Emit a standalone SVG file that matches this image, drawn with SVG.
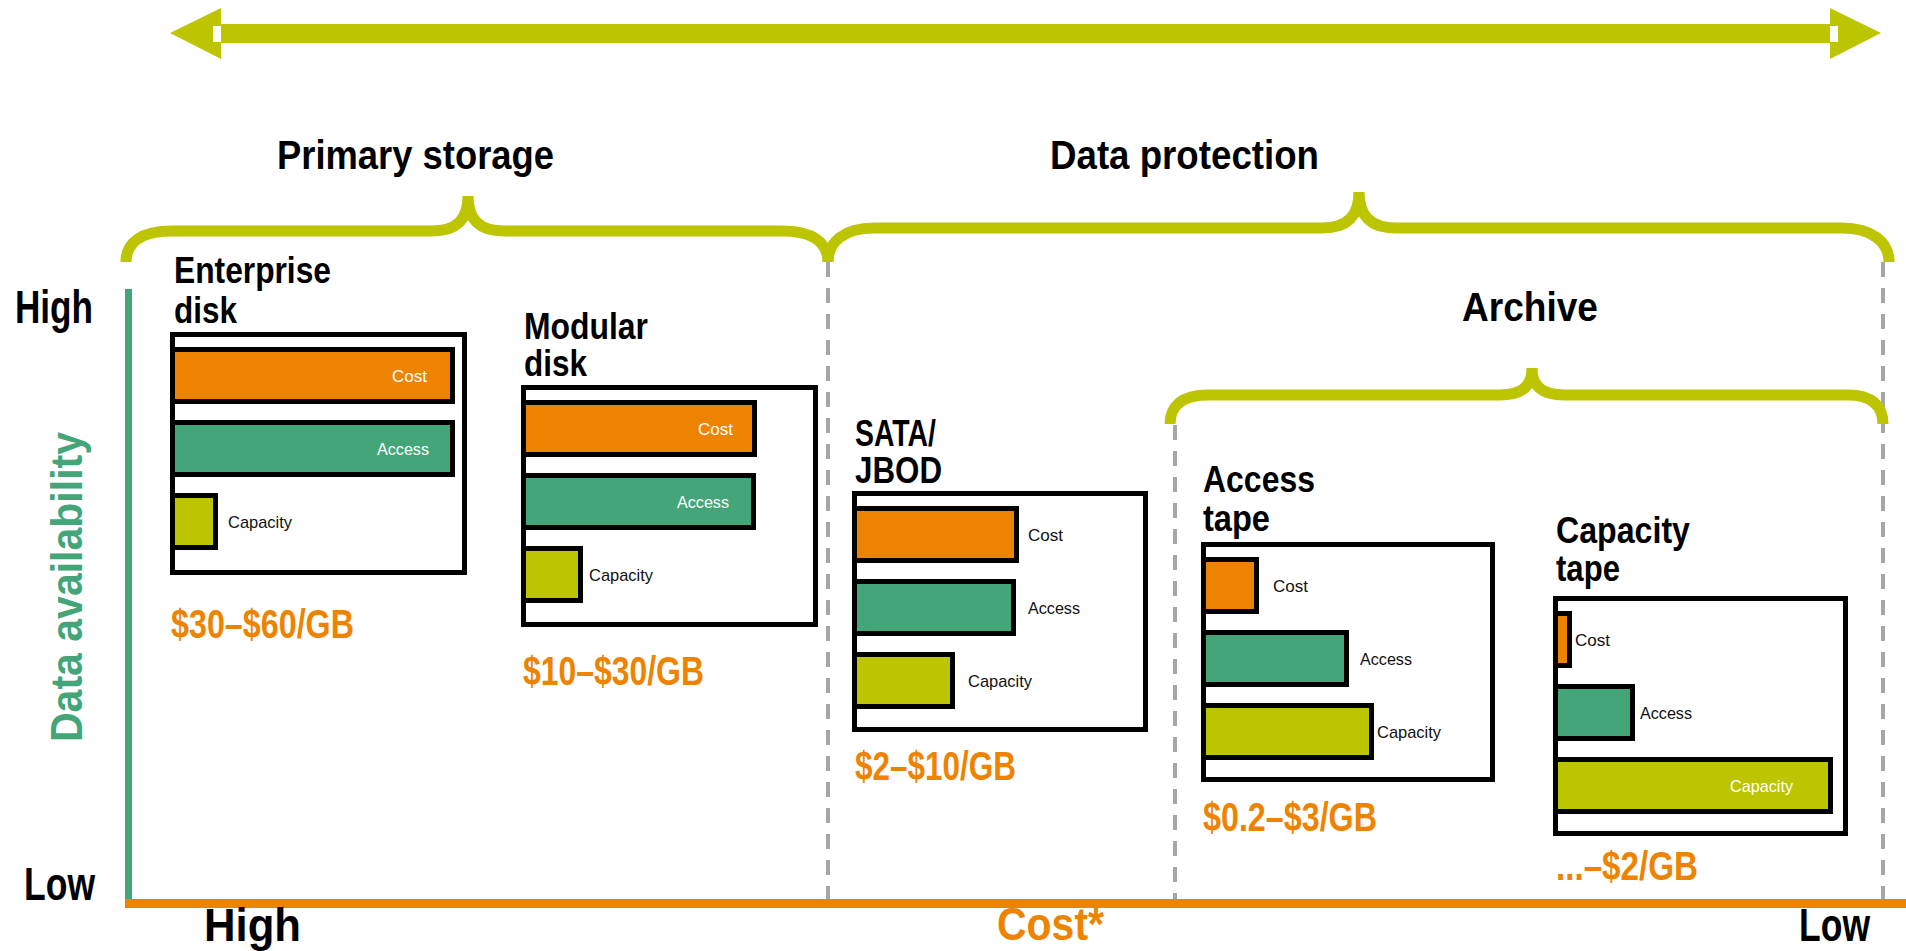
<svg xmlns="http://www.w3.org/2000/svg" width="1906" height="951" viewBox="0 0 1906 951">
<style>
.t{font-family:"Liberation Sans Narrow","Liberation Sans",Arial,sans-serif;font-weight:bold}
.h{font-size:41px;fill:#000}
.n{font-size:36px;fill:#000}
.p{font-size:40px;fill:#EE8300}
.ax{font-size:46px;fill:#000}
.s{font-family:"Liberation Sans Narrow","Liberation Sans",Arial,sans-serif;font-size:17px;fill:#111}
.w{fill:#fff}
.box{fill:#fff;stroke:#000;stroke-width:5}
.bo{fill:#EE8300;stroke:#000;stroke-width:5}
.bg{fill:#43A578;stroke:#000;stroke-width:5}
.by{fill:#BDC400;stroke:#000;stroke-width:5}
.brace{fill:none;stroke:#BDC400;stroke-width:11}
.dash{stroke:#A6A6A6;stroke-width:4;stroke-dasharray:15 11;fill:none}
</style>

<g id="top-arrow">
<rect x="221" y="24" width="1609" height="19" fill="#BDC400"/>
<polygon points="170,33 221,8 221,59" fill="#BDC400"/>
<rect x="213" y="26" width="8" height="16" fill="#fff"/>
<polygon points="1881,33 1830,8 1830,59" fill="#BDC400"/>
<rect x="1830" y="26" width="8" height="16" fill="#fff"/>
</g>

<g id="connectors">
<line class="dash" x1="828" y1="262" x2="828" y2="900"/>
<line class="dash" x1="1175" y1="425" x2="1175" y2="900"/>
<line class="dash" x1="1883" y1="262" x2="1883" y2="900"/>
<path class="brace" d="M126 262 C126 242 142 231 172 231 L432 231 C456 231 468 220 468 196 C468 220 480 231 504 231 L782 231 C812 231 828 242 828 262"/>
<path class="brace" d="M828 262 C828 242 844 228 874 228 L1322 228 C1347 228 1359 216 1359 192 C1359 216 1371 228 1396 228 L1842 228 C1872 228 1889 242 1889 262"/>
<path class="brace" d="M1170 424 C1170 406 1182 395 1208 395 L1500 395 C1522 395 1532 386 1532 368 C1532 386 1542 395 1564 395 L1848 395 C1872 395 1883 406 1883 424"/>
<line x1="128.5" y1="289" x2="128.5" y2="903" stroke="#43A578" stroke-width="7"/>
<line x1="125" y1="903.5" x2="1906" y2="903.5" stroke="#EE8300" stroke-width="9"/>
</g>

<g id="group-labels">
<text class="t h" x="277" y="169" textLength="277" lengthAdjust="spacingAndGlyphs">Primary storage</text>
<text class="t h" x="1050" y="169" textLength="269" lengthAdjust="spacingAndGlyphs">Data protection</text>
<text class="t h" x="1462" y="321" textLength="136" lengthAdjust="spacingAndGlyphs">Archive</text>
</g>

<g id="axes-labels">
<text class="t ax" x="15" y="323" textLength="78" lengthAdjust="spacingAndGlyphs">High</text>
<text class="t ax" x="24" y="900" textLength="71" lengthAdjust="spacingAndGlyphs">Low</text>
<text class="t ax" x="204" y="941" textLength="97" lengthAdjust="spacingAndGlyphs">High</text>
<text class="t ax" x="997" y="940" textLength="107" lengthAdjust="spacingAndGlyphs" style="fill:#EE8300">Cost*</text>
<text class="t ax" x="1799" y="941" textLength="71" lengthAdjust="spacingAndGlyphs">Low</text>
<text transform="translate(82,587) rotate(-90)" text-anchor="middle" style="font-family:'Liberation Sans',Arial,sans-serif;font-weight:bold;font-size:44px;fill:#43A578" textLength="310" lengthAdjust="spacingAndGlyphs">Data availability</text>
</g>

<g id="enterprise-disk">
<text class="t n" x="174" y="283" textLength="157" lengthAdjust="spacingAndGlyphs">Enterprise</text>
<text class="t n" x="174" y="323" textLength="63" lengthAdjust="spacingAndGlyphs">disk</text>
<rect class="box" x="172.5" y="334.5" width="292" height="238"/>
<rect class="bo" x="172.5" y="349.5" width="280" height="52"/>
<rect class="bg" x="172.5" y="422.5" width="280" height="52"/>
<rect class="by" x="172.5" y="495.5" width="43" height="52"/>
<text class="s w" x="392" y="381.5" textLength="35" lengthAdjust="spacingAndGlyphs">Cost</text>
<text class="s w" x="377" y="454.5" textLength="52" lengthAdjust="spacingAndGlyphs">Access</text>
<text class="s" x="228" y="527.5" textLength="64" lengthAdjust="spacingAndGlyphs">Capacity</text>
<text class="t p" x="171" y="638" textLength="183" lengthAdjust="spacingAndGlyphs">$30–$60/GB</text>
</g>

<g id="modular-disk">
<text class="t n" x="524" y="339" textLength="124" lengthAdjust="spacingAndGlyphs">Modular</text>
<text class="t n" x="524" y="376" textLength="63" lengthAdjust="spacingAndGlyphs">disk</text>
<rect class="box" x="523.5" y="387.5" width="292" height="237"/>
<rect class="bo" x="523.5" y="402.5" width="231" height="52"/>
<rect class="bg" x="523.5" y="475.5" width="230" height="52"/>
<rect class="by" x="523.5" y="548.5" width="57" height="52"/>
<text class="s w" x="698" y="434.5" textLength="35" lengthAdjust="spacingAndGlyphs">Cost</text>
<text class="s w" x="677" y="507.5" textLength="52" lengthAdjust="spacingAndGlyphs">Access</text>
<text class="s" x="589" y="580.5" textLength="64" lengthAdjust="spacingAndGlyphs">Capacity</text>
<text class="t p" x="523" y="685" textLength="181" lengthAdjust="spacingAndGlyphs">$10–$30/GB</text>
</g>

<g id="sata-jbod">
<text class="t n" x="855" y="446" textLength="81" lengthAdjust="spacingAndGlyphs">SATA/</text>
<text class="t n" x="855" y="483" textLength="87" lengthAdjust="spacingAndGlyphs">JBOD</text>
<rect class="box" x="854.5" y="493.5" width="291" height="236"/>
<rect class="bo" x="854.5" y="508.5" width="162" height="52"/>
<rect class="bg" x="854.5" y="581.5" width="159" height="52"/>
<rect class="by" x="854.5" y="654.5" width="98" height="52"/>
<text class="s" x="1028" y="540.5" textLength="35" lengthAdjust="spacingAndGlyphs">Cost</text>
<text class="s" x="1028" y="613.5" textLength="52" lengthAdjust="spacingAndGlyphs">Access</text>
<text class="s" x="968" y="686.5" textLength="64" lengthAdjust="spacingAndGlyphs">Capacity</text>
<text class="t p" x="855" y="780" textLength="161" lengthAdjust="spacingAndGlyphs">$2–$10/GB</text>
</g>

<g id="access-tape">
<text class="t n" x="1203" y="492" textLength="112" lengthAdjust="spacingAndGlyphs">Access</text>
<text class="t n" x="1203" y="531" textLength="67" lengthAdjust="spacingAndGlyphs">tape</text>
<rect class="box" x="1203.5" y="544.5" width="289" height="235"/>
<rect class="bo" x="1203.5" y="559.5" width="53" height="52"/>
<rect class="bg" x="1203.5" y="632.5" width="143" height="52"/>
<rect class="by" x="1203.5" y="705.5" width="168" height="52"/>
<text class="s" x="1273" y="591.5" textLength="35" lengthAdjust="spacingAndGlyphs">Cost</text>
<text class="s" x="1360" y="664.5" textLength="52" lengthAdjust="spacingAndGlyphs">Access</text>
<text class="s" x="1377" y="737.5" textLength="64" lengthAdjust="spacingAndGlyphs">Capacity</text>
<text class="t p" x="1203" y="831" textLength="174" lengthAdjust="spacingAndGlyphs">$0.2–$3/GB</text>
</g>

<g id="capacity-tape">
<text class="t n" x="1556" y="543" textLength="134" lengthAdjust="spacingAndGlyphs">Capacity</text>
<text class="t n" x="1556" y="581" textLength="64" lengthAdjust="spacingAndGlyphs">tape</text>
<rect class="box" x="1555.5" y="598.5" width="290" height="235"/>
<rect class="bo" x="1555.5" y="613.5" width="14" height="52"/>
<rect class="bg" x="1555.5" y="686.5" width="77" height="52"/>
<rect class="by" x="1555.5" y="759.5" width="275" height="52"/>
<text class="s" x="1575" y="645.5" textLength="35" lengthAdjust="spacingAndGlyphs">Cost</text>
<text class="s" x="1640" y="718.5" textLength="52" lengthAdjust="spacingAndGlyphs">Access</text>
<text class="s w" x="1730" y="791.5" textLength="63" lengthAdjust="spacingAndGlyphs">Capacity</text>
<text class="t p" x="1556" y="880" textLength="142" lengthAdjust="spacingAndGlyphs">...–$2/GB</text>
</g>
</svg>
